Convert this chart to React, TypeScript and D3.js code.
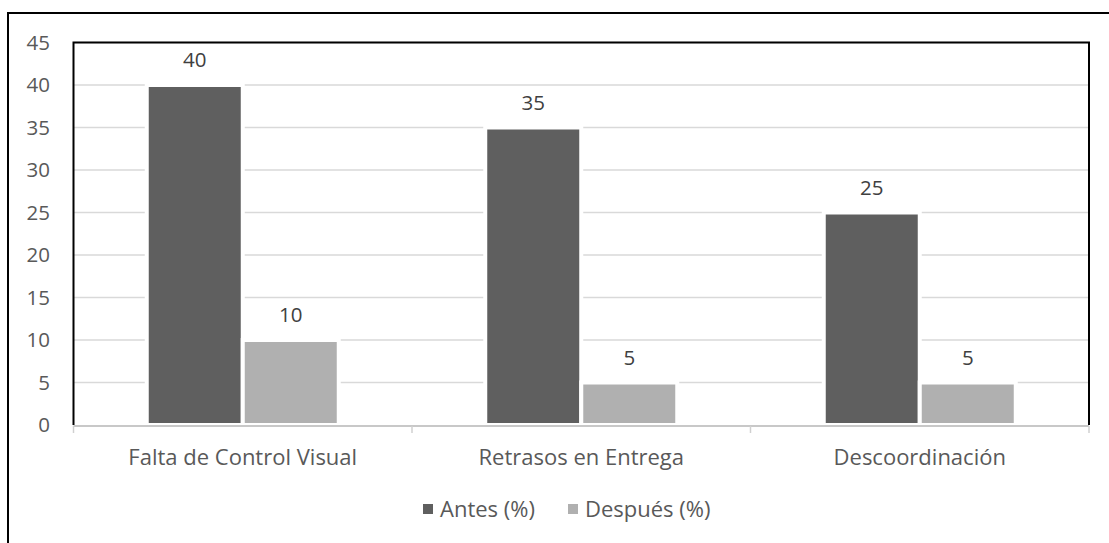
import React from "react";
import * as d3 from "d3";

const categories = ["Falta de Control Visual", "Retrasos en Entrega", "Descoordinación"];
const seriesNames = ["Antes (%)", "Después (%)"];
const antes = [40, 35, 25];
const despues = [10, 5, 5];
const yTicks = [0, 5, 10, 15, 20, 25, 30, 35, 40, 45];
const seriesColors = ["#5f5f5f", "#b0b0b0"];

const W = 1109;
const H = 543;
const plot = { left: 73.5, right: 1089, top: 42.5, bottom: 425 };
const FONT = "'Open Sans', 'Noto Sans', sans-serif";

export default function App() {
  const x0 = d3.scaleBand<string>().domain(categories).range([plot.left, plot.right]).padding(0);
  const x1 = d3
    .scaleBand<string>()
    .domain(seriesNames)
    .range([0, x0.bandwidth()])
    .paddingInner(0)
    .paddingOuter(0.763);
  const y = d3.scaleLinear().domain([0, 45]).range([plot.bottom, plot.top]);

  const values = [antes, despues];
  const boundaries = [...categories.map((c) => x0(c) as number), plot.right];

  const legendItems = [
    { name: seriesNames[0], color: seriesColors[0], x: 423 },
    { name: seriesNames[1], color: seriesColors[1], x: 568 },
  ];

  return (
    <svg
      width={W}
      height={H}
      style={{ position: "absolute", left: 0, top: 0, background: "#fff" }}
      fontFamily={FONT}
    >
      <rect x={0} y={0} width={W} height={H} fill="#fff" />
      {/* outer frame */}
      <path d={`M8,${H} V13 H${W}`} fill="none" stroke="#000" strokeWidth={2} />

      {/* gridlines */}
      {yTicks
        .filter((t) => t > 0)
        .map((t) => (
          <line
            key={"g" + t}
            x1={plot.left}
            x2={plot.right}
            y1={y(t)}
            y2={y(t)}
            stroke="#d9d9d9"
            strokeWidth={1.5}
          />
        ))}

      {/* bars */}
      {categories.map((c, ci) =>
        seriesNames.map((s, si) => {
          const v = values[si][ci];
          const bx = (x0(c) as number) + (x1(s) as number);
          return (
            <rect
              key={c + s}
              x={bx}
              y={y(v)}
              width={x1.bandwidth()}
              height={y(0) - y(v)}
              fill={seriesColors[si]}
              stroke="#fff"
              strokeWidth={4}
            />
          );
        })
      )}

      {/* x axis line */}
      <line x1={plot.left} x2={plot.right} y1={plot.bottom + 1} y2={plot.bottom + 1} stroke="#c8c8c8" strokeWidth={2} />
      {boundaries.map((bx, i) => (
        <line key={"t" + i} x1={bx} x2={bx} y1={plot.bottom + 1} y2={plot.bottom + 8} stroke="#d0d0d0" strokeWidth={1.5} />
      ))}

      {/* plot frame */}
      <path
        d={`M${plot.left},${plot.bottom} V${plot.top} H${plot.right} V${plot.bottom}`}
        fill="none"
        stroke="#000"
        strokeWidth={2}
      />

      {/* value labels */}
      {categories.map((c, ci) =>
        seriesNames.map((s, si) => {
          const v = values[si][ci];
          const cx = (x0(c) as number) + (x1(s) as number) + x1.bandwidth() / 2;
          return (
            <text key={"l" + c + s} x={cx} y={y(v) - 18} textAnchor="middle" fontSize={20.5} fill="#404040">
              {v}
            </text>
          );
        })
      )}

      {/* y tick labels */}
      {yTicks.map((t) => (
        <text key={"y" + t} x={50} y={y(t)} dy="0.35em" textAnchor="end" fontSize={20.5} fill="#595959">
          {t}
        </text>
      ))}

      {/* category labels */}
      {categories.map((c) => (
        <text
          key={"c" + c}
          x={(x0(c) as number) + x0.bandwidth() / 2}
          y={465}
          textAnchor="middle"
          fontSize={22}
          fill="#595959"
        >
          {c}
        </text>
      ))}

      {/* legend */}
      {legendItems.map((it) => (
        <g key={it.name}>
          <rect x={it.x} y={504} width={10} height={10} fill={it.color} />
          <text x={it.x + 17} y={517} fontSize={22} fill="#595959">
            {it.name}
          </text>
        </g>
      ))}
    </svg>
  );
}
